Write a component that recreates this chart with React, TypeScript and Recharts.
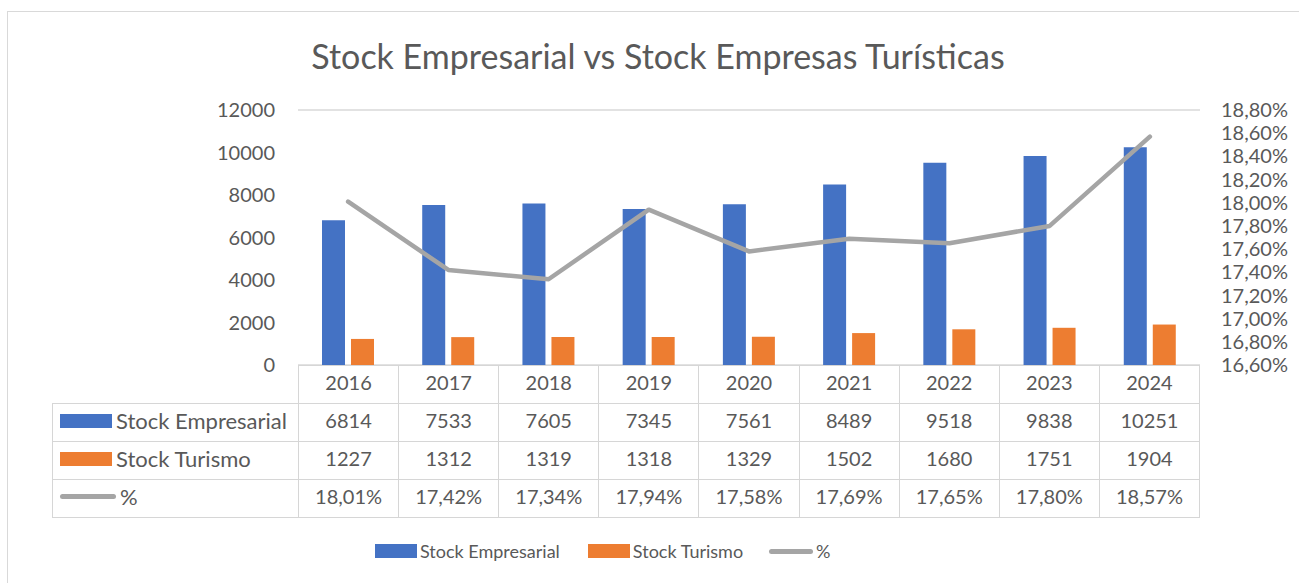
import React from 'react';
import { ComposedChart, Bar, Line, XAxis, YAxis, CartesianGrid } from 'recharts';

const years = ['2016', '2017', '2018', '2019', '2020', '2021', '2022', '2023', '2024'];
const stockEmpresarial = [6814, 7533, 7605, 7345, 7561, 8489, 9518, 9838, 10251];
const stockTurismo = [1227, 1312, 1319, 1318, 1329, 1502, 1680, 1751, 1904];
const porcentaje = [18.01, 17.42, 17.34, 17.94, 17.58, 17.69, 17.65, 17.8, 18.57];
const leftTicks = [0, 2000, 4000, 6000, 8000, 10000, 12000];
const rightTicks = [16.6, 16.8, 17.0, 17.2, 17.4, 17.6, 17.8, 18.0, 18.2, 18.4, 18.6, 18.8];

const BLUE = '#4472C4';
const ORANGE = '#ED7D31';
const GRAY = '#A5A5A5';
const TEXT = '#595959';
const FONT = 'Lato, "Open Sans", sans-serif';

const data = years.map((year, i) => ({
  year,
  empresarial: stockEmpresarial[i],
  turismo: stockTurismo[i],
  pct: porcentaje[i],
}));

const fmtPct = (v: number) => v.toFixed(2).replace('.', ',') + '%';

const cell: React.CSSProperties = {
  border: '1px solid #d6d6d6',
  textAlign: 'center',
  padding: '0 0 5px 0',
  fontSize: 20,
  color: TEXT,
  height: 32,
};

const Swatch = ({ color, line, w = 52 }: { color: string; line?: boolean; w?: number }) =>
  line ? (
    <span style={{ display: 'inline-block', width: w + 4, height: 5, borderRadius: 3, background: color, verticalAlign: 'middle' }} />
  ) : (
    <span style={{ display: 'inline-block', width: w, height: 14, background: color, verticalAlign: 'middle' }} />
  );

const App: React.FC = () => {
  const tick = { fill: TEXT, fontSize: 20, fontFamily: FONT };
  const rows = [
    { name: 'Stock Empresarial', color: BLUE, line: false, values: stockEmpresarial.map(String) },
    { name: 'Stock Turismo', color: ORANGE, line: false, values: stockTurismo.map(String) },
    { name: '%', color: GRAY, line: true, values: porcentaje.map(fmtPct) },
  ];

  return (
    <div style={{ position: 'absolute', left: 0, top: 0, width: 1299, height: 583, overflow: 'hidden', background: '#fff', fontFamily: FONT }}>
      <div style={{ position: 'absolute', left: 7, top: 11, width: 1330, height: 620, border: '1.5px solid #d9d9d9' }} />
      <div style={{ position: 'absolute', left: 0, top: 34, width: 1316, textAlign: 'center', fontSize: 34, lineHeight: '44px', color: TEXT }}>
        Stock Empresarial vs Stock Empresas Turísticas
      </div>

      <ComposedChart
        width={1299}
        height={583}
        data={data}
        margin={{ top: 110, right: 9, bottom: 218, left: 238 }}
        barGap={6}
        style={{ position: 'absolute', left: 0, top: 0 }}
      >
        <CartesianGrid vertical={false} stroke="#d9d9d9" strokeWidth={1.5} />
        <XAxis dataKey="year" hide />
        <YAxis
          yAxisId="left"
          width={60}
          domain={[0, 12000]}
          ticks={leftTicks}
          axisLine={false}
          tickLine={false}
          tickMargin={17}
          tick={tick}
        />
        <YAxis
          yAxisId="right"
          orientation="right"
          width={90}
          domain={[16.6, 18.8]}
          ticks={rightTicks}
          tickFormatter={fmtPct}
          axisLine={false}
          tickLine={false}
          tickMargin={15}
          tick={{ ...tick, textAnchor: 'start' }}
          interval={0}
        />
        <Bar yAxisId="left" dataKey="empresarial" fill={BLUE} barSize={23} isAnimationActive={false} />
        <Bar yAxisId="left" dataKey="turismo" fill={ORANGE} barSize={23} isAnimationActive={false} />
        <Line
          yAxisId="right"
          dataKey="pct"
          type="linear"
          stroke={GRAY}
          strokeWidth={4.5}
          strokeLinecap="round"
          strokeLinejoin="round"
          dot={false}
          isAnimationActive={false}
        />
      </ComposedChart>

      <table
        style={{
          position: 'absolute',
          left: 52,
          top: 365,
          width: 1148,
          borderCollapse: 'collapse',
          tableLayout: 'fixed',
          fontFamily: FONT,
        }}
      >
        <colgroup>
          <col style={{ width: 246 }} />
          {years.map((y) => (
            <col key={y} />
          ))}
        </colgroup>
        <tbody>
          <tr>
            <td style={{ ...cell, borderTop: 'none', borderLeft: 'none' }} />
            {years.map((y) => (
              <td key={y} style={cell}>{y}</td>
            ))}
          </tr>
          {rows.map((r) => (
            <tr key={r.name}>
              <td style={{ ...cell, textAlign: 'left', paddingLeft: 7, whiteSpace: 'nowrap' }}>
                <Swatch color={r.color} line={r.line} />
                <span style={{ marginLeft: 4, verticalAlign: 'middle', fontSize: 22 }}>{r.name}</span>
              </td>
              {r.values.map((v, i) => (
                <td key={i} style={cell}>{v}</td>
              ))}
            </tr>
          ))}
        </tbody>
      </table>

      <div style={{ position: 'absolute', left: 375, top: 538, height: 26, display: 'flex', alignItems: 'center', fontSize: 18, color: TEXT }}>
        <Swatch color={BLUE} w={42} />
        <span style={{ marginLeft: 3, marginRight: 28 }}>Stock Empresarial</span>
        <Swatch color={ORANGE} w={42} />
        <span style={{ marginLeft: 3, marginRight: 26 }}>Stock Turismo</span>
        <Swatch color={GRAY} line w={40} />
        <span style={{ marginLeft: 3 }}>%</span>
      </div>
    </div>
  );
};

export default App;
